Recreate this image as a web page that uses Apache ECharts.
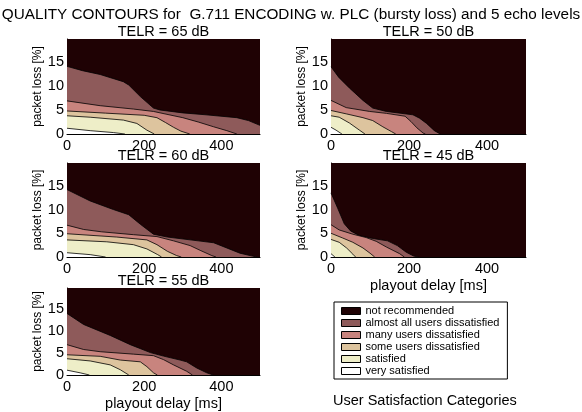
<!DOCTYPE html>
<html><head><meta charset="utf-8">
<script src="https://cdn.jsdelivr.net/npm/echarts@6/dist/echarts.min.js"></script>
<style>html,body{margin:0;padding:0;background:#fff}#c{width:582px;height:412px}</style>
</head><body><div id="c"></div>
<script>
// ---------- data ----------
const categories = ['not recommended','almost all users dissatisfied','many users dissatisfied','some users dissatisfied','satisfied','very satisfied'];
const telrLevels = [65, 50, 60, 45, 55];           // dB, panel order
const lossMax = 19.8;                               // % packet loss (y extent)
const delayMax = 500;                               // ms (x extent)
const delayTickStep = 200;
const lossTickStep = 5;

// contour boundaries [playout delay ms, packet loss %] : upper edge of each category region
// TELR = 65 dB
const b65_almostAll = [[0,14.1],[40,13.2],[86,12.4],[146,10.9],[160,10.2],[190,7.8],[224,5.4],[241,5.0],[300,4.4],[360,4.0],[440,3.4],[470,2.8],[500,1.8]];
const b65_many      = [[0,6.9],[86,5.9],[172,5.2],[224,4.7],[259,4.1],[300,3.4],[340,2.5],[380,1.5],[414,0.7],[440,0]];
const b65_some      = [[0,4.8],[100,4.35],[200,3.9],[233,3.4],[255,2.4],[276,1.4],[295,0.6],[318,0]];
const b65_sat       = [[0,3.8],[60,3.5],[146,2.9],[181,2.2],[207,0.8],[226,0]];
const b65_verySat   = [[0,1.2],[60,0.7],[120,0.3],[150,0]];
// TELR = 50 dB
const b50_almostAll = [[0,14.0],[20,11.8],[47,9.6],[82,7.0],[107,5.4],[142,4.7],[210,4.0],[227,3.3],[245,2.2],[265,0.7],[280,0]];
const b50_many      = [[0,7.0],[39,5.5],[99,4.7],[142,4.3],[190,3.7],[205,2.6],[220,1.3],[236,0.2],[242,0]];
const b50_some      = [[0,4.9],[39,4.2],[82,3.4],[107,2.8],[133,1.5],[155,0.5],[166,0]];
const b50_sat       = [[0,3.8],[21,3.5],[47,2.3],[73,0.8],[87,0]];
const b50_verySat   = [[0,1.4],[13,0.8],[28,0]];
// TELR = 60 dB
const b60_almostAll = [[0,14.2],[60,11.8],[120,10.0],[160,8.9],[190,6.9],[224,4.8],[260,4.2],[340,3.4],[380,3.0],[414,1.9],[448,0.8],[480,0.2],[492,0]];
const b60_many      = [[0,6.7],[43,5.8],[90,5.3],[172,4.7],[233,4.3],[276,3.4],[319,2.4],[345,1.4],[375,0.3],[386,0]];
const b60_some      = [[0,4.9],[129,4.2],[207,3.6],[233,2.6],[260,1.2],[284,0.3],[296,0]];
const b60_sat       = [[0,3.6],[103,3.2],[172,2.6],[207,1.7],[235,0.5],[245,0]];
const b60_verySat   = [[0,0.9],[60,0.5],[100,0]];
// TELR = 45 dB
const b45_almostAll = [[0,13.5],[17,10.3],[34,7.0],[50,5.5],[73,4.5],[107,3.9],[145,3.4],[170,2.4],[193,1.0],[212,0.2],[224,0]];
const b45_many      = [[0,6.8],[21,5.7],[56,4.8],[90,4.1],[116,3.3],[142,2.1],[176,0.7],[188,0]];
const b45_some      = [[0,5.0],[30,4.0],[56,3.1],[82,1.9],[100,0.8],[112,0]];
const b45_sat       = [[0,3.7],[21,3.1],[40,1.9],[56,0.6],[63,0]];
const b45_verySat   = [[0,0.7],[10,0]];
// TELR = 55 dB
const b55_almostAll = [[0,14.0],[43,11.5],[112,9.0],[164,6.9],[216,5.1],[250,4.3],[293,3.4],[310,3.0],[336,1.6],[362,0.5],[379,0]];
const b55_many      = [[0,6.9],[43,5.8],[86,5.3],[172,4.75],[224,4.4],[250,3.5],[276,2.3],[310,0.85],[325,0]];
const b55_some      = [[0,4.6],[86,4.25],[138,3.4],[190,3.0],[207,1.9],[224,0.5],[234,0]];
const b55_sat       = [[0,3.7],[60,3.2],[112,2.3],[138,1.2],[160,0]];
const b55_verySat   = [[0,1.1],[34,0.5],[58,0]];

const panelBounds = [
  [b65_almostAll, b65_many, b65_some, b65_sat, b65_verySat],
  [b50_almostAll, b50_many, b50_some, b50_sat, b50_verySat],
  [b60_almostAll, b60_many, b60_some, b60_sat, b60_verySat],
  [b45_almostAll, b45_many, b45_some, b45_sat, b45_verySat],
  [b55_almostAll, b55_many, b55_some, b55_sat, b55_verySat]
];

// ---------- styling / layout ----------
const colors = ['#1F0204','#8E5A5A','#C8847E','#DDC49E','#EEEEC8','#FFFFFF'];
const FONT = '"Liberation Sans", Arial, Helvetica, sans-serif';
const grids = [
  {left:67,  top:39,  width:193, height:95},
  {left:331, top:39,  width:195, height:95},
  {left:67,  top:163, width:193, height:94},
  {left:331, top:163, width:195, height:94},
  {left:67,  top:288, width:193, height:94}
];
const showXName = [false,false,false,true,true];

const chart = echarts.init(document.getElementById('c'), null, {renderer:'canvas'});

const xAxes = [], yAxes = [], series = [], graphics = [];
grids.forEach((g, i) => {
  xAxes.push({
    gridIndex:i, type:'value', min:0, max:delayMax, interval:delayTickStep,
    axisLine:{show:true, onZero:false, lineStyle:{color:'#000', width:1}},
    axisTick:{show:true, inside:true, length:3, lineStyle:{color:'#000'}},
    splitLine:{show:false},
    axisLabel:{show:true, showMaxLabel:false, margin:4, color:'#000', fontSize:14.5, fontFamily:FONT},
    name: showXName[i] ? 'playout delay [ms]' : '',
    nameLocation:'middle', nameGap:21,
    nameTextStyle:{color:'#000', fontSize:14.5, fontFamily:FONT}
  });
  yAxes.push({
    gridIndex:i, type:'value', min:0, max:lossMax, interval:lossTickStep,
    axisLine:{show:true, onZero:false, lineStyle:{color:'#000', width:1}},
    axisTick:{show:true, inside:true, length:3, lineStyle:{color:'#000'}},
    splitLine:{show:false},
    axisLabel:{show:true, showMaxLabel:false, margin:3, color:'#000', fontSize:14.5, fontFamily:FONT},
    name:'packet loss [%]', nameLocation:'middle', nameGap:21, nameRotate:90,
    nameTextStyle:{color:'#000', fontSize:12, fontFamily:FONT}
  });
  // not recommended: full region
  series.push({
    type:'line', name:categories[0], xAxisIndex:i, yAxisIndex:i,
    data:[[0,lossMax],[delayMax,lossMax]], symbol:'none', silent:true,
    itemStyle:{color:colors[0]}, lineStyle:{width:0, color:colors[0]},
    areaStyle:{color:colors[0], opacity:1, origin:'start'}, z:1
  });
  panelBounds[i].forEach((b, k) => {
    series.push({
      type:'line', name:categories[k+1], xAxisIndex:i, yAxisIndex:i,
      data:b, symbol:'none', silent:true,
      itemStyle:{color:colors[k+1]}, lineStyle:{width:0.8, color:'#000'},
      areaStyle:{color:colors[k+1], opacity:1, origin:'start'}, z:2+k
    });
  });
  graphics.push({
    type:'text', x:g.left + g.width/2, y:g.top - 7.5,
    style:{text:'TELR = ' + telrLevels[i] + ' dB', align:'center', verticalAlign:'middle',
           fontSize:14.5, fontFamily:FONT, fill:'#000'}
  });
});

graphics.push({
  type:'text', x:333, y:401,
  style:{text:'User Satisfaction Categories', align:'left', verticalAlign:'middle',
         fontSize:14.5, fontFamily:FONT, fill:'#000'}
});

chart.setOption({
  animation:false,
  backgroundColor:'#fff',
  title:{
    text:'QUALITY CONTOURS for  G.711 ENCODING w. PLC (bursty loss) and 5 echo levels',
    left:'center', top:7, padding:0,
    textStyle:{fontSize:15.3, fontWeight:'normal', color:'#000', fontFamily:FONT}
  },
  grid: grids.map(g => Object.assign({containLabel:false, show:false}, g)),
  xAxis:xAxes, yAxis:yAxes, series:series,
  legend:{
    orient:'vertical', left:334, top:302, padding:[3,8,2,7], itemGap:0,
    itemWidth:19, itemHeight:7, icon:'rect', borderColor:'#000', borderWidth:1,
    selectedMode:false,
    textStyle:{fontSize:11, fontFamily:FONT, color:'#000', lineHeight:12},
    data: categories.map((c, i) => ({name:c, itemStyle:{color:colors[i], borderColor:'#000', borderWidth:1}}))
  },
  graphic: graphics
});
</script></body></html>
